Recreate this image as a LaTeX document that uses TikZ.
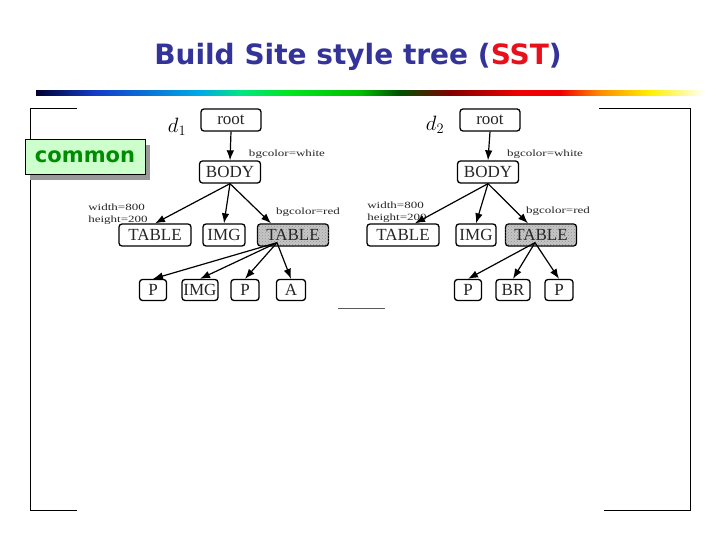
\documentclass[tikz,border=0pt]{standalone}
\usepackage{fontspec}
\usepackage{graphicx}
\usetikzlibrary{arrows.meta,shadows,patterns}
\newfontfamily\slidefont{DejaVu Sans}
\newfontfamily\treefont{Liberation Serif}
\definecolor{titleblue}{RGB}{51,51,153}
\definecolor{sstred}{RGB}{232,16,26}
\definecolor{commonfill}{RGB}{204,255,204}
\definecolor{commontext}{RGB}{0,140,0}
\definecolor{bar0}{RGB}{0,0,50}
\definecolor{bar1}{RGB}{20,60,200}
\definecolor{bar2}{RGB}{0,170,230}
\definecolor{bar3}{RGB}{0,230,130}
\definecolor{bar4}{RGB}{0,230,30}
\definecolor{bar5}{RGB}{0,190,0}
\definecolor{bar6}{RGB}{0,80,0}
\definecolor{bar7}{RGB}{130,0,0}
\definecolor{bar8}{RGB}{240,0,0}
\definecolor{bar9}{RGB}{255,140,0}
\definecolor{bar10}{RGB}{255,240,0}
\newcommand{\wide}[1]{\scalebox{1.37}[1]{#1}}
\tikzset{
  tag/.style={draw, line width=1.3pt, rounded corners=3pt, fill=white,
    minimum height=22pt, inner xsep=3pt, inner ysep=0pt,
    font=\treefont\fontsize{17}{18}\selectfont, text=black!85},
  leaf/.style={tag, minimum height=21pt},
  hot/.style={tag, fill=gray!45, postaction={pattern=crosshatch dots, pattern color=gray!85}},
  attr/.style={font=\treefont\fontsize{9.5}{12.5}\selectfont, inner sep=0pt, text=black!85},
  doc/.style={font=\fontsize{20}{22}\selectfont, inner sep=0pt},
  link/.style={-{Latex[length=10pt,width=7.5pt]}, line width=1.2pt},
  frame/.style={line width=1pt},
}
\begin{document}
\begin{tikzpicture}[x=1pt, y=-1pt]
    \fill[white] (0,0) rectangle (720,540);
    \useasboundingbox (0,0) rectangle (720,540);

    % Title and colour bar
    \node[font=\slidefont\bfseries\fontsize{28}{30}\selectfont, text=titleblue, anchor=base]
        (title) at (358,65) {Build Site style tree ({\color{sstred}SST})};
    \foreach \xa/\xb/\ca/\cb in {36/95/bar0/bar1, 95/200/bar1/bar2, 200/240/bar2/bar3,
        240/290/bar3/bar4, 290/360/bar4/bar5, 360/400/bar5/bar6, 400/450/bar6/bar7,
        450/520/bar7/bar8, 520/560/bar8/bar8, 560/600/bar8/bar9, 600/650/bar9/bar10,
        650/705/bar10/white}
        \shade[left color=\ca, right color=\cb] (\xa,90.5) rectangle (\xb,96);

    % Frame
    \draw[frame] (77,109) -- (30,109) -- (30,510) -- (77,510);
    \draw[frame] (599,109) -- (690,109) -- (690,510) -- (604,510);
    \draw[gray!70!black, line width=1pt] (338,308) -- (385,308);

    \node[draw, line width=0.6pt, fill=commonfill, minimum width=120pt, minimum height=35pt,
        drop shadow={shadow xshift=5pt, shadow yshift=-6pt, fill=black!40, opacity=1},
        font=\slidefont\bfseries\fontsize{21}{24}\selectfont, text=commontext]
        (common) at (85,156.5) {common};

    % Tree d1
    \node[doc] (d1) at (177,127) {$d_1$};
    \node[tag, minimum width=60pt] (r1) at (231,120) {root};
    \node[tag, minimum width=61pt] (b1) at (230,172) {BODY};
    \node[tag, minimum width=72pt] (ta1) at (155,235) {TABLE};
    \node[tag, minimum width=42pt] (im1) at (224,235) {IMG};
    \node[hot, minimum width=71pt] (tb1) at (293,235) {TABLE};
    \node[leaf, minimum width=27pt] (p1a) at (153,290) {P};
    \node[leaf, minimum width=36pt, inner xsep=1pt] (img1) at (200,290) {IMG};
    \node[leaf, minimum width=28pt] (p1b) at (245,290) {P};
    \node[leaf, minimum width=29pt] (a1) at (291,290) {A};
    \node[attr] (w1) at (287,154) {\wide{bgcolor=white}};
    \node[attr, align=left] (s1) at (118,214) {\wide{width=800}\\\wide{height=200}};
    \node[attr] (c1) at (308,212) {\wide{bgcolor=red}};

    \draw[link] (r1.south) -- (b1.north);
    \draw[link] (b1.south) -- (ta1.north);
    \draw[link] (b1.south) -- (im1.north);
    \draw[link] (b1.south) -- ([xshift=-22pt]tb1.north);
    \coordinate (h1) at ([xshift=-16pt,yshift=4pt]tb1.south);
    \foreach \c in {p1a,img1,p1b,a1}
        \draw[link] (h1) -- (\c.north);

    % Tree d2
    \node[doc] (d2) at (435,125) {$d_2$};
    \node[tag, minimum width=60pt] (r2) at (490,120) {root};
    \node[tag, minimum width=61pt] (b2) at (488,172) {BODY};
    \node[tag, minimum width=72pt] (ta2) at (403,235) {TABLE};
    \node[tag, minimum width=40pt] (im2) at (476,235) {IMG};
    \node[hot, minimum width=71pt] (tb2) at (541,235) {TABLE};
    \node[leaf, minimum width=27pt] (p2a) at (468,290) {P};
    \node[leaf, minimum width=34pt] (br2) at (513,290) {BR};
    \node[leaf, minimum width=28pt] (p2b) at (559,290) {P};
    \node[attr] (w2) at (545,154) {\wide{bgcolor=white}};
    \node[attr, align=left] (s2) at (397,212) {\wide{width=800}\\\wide{height=200}};
    \node[attr] (c2) at (558,211) {\wide{bgcolor=red}};

    \draw[link] (r2.south) -- (b2.north);
    \draw[link] (b2.south) -- ([xshift=12pt]ta2.north);
    \draw[link] (b2.south) -- (im2.north);
    \draw[link] (b2.south) -- ([xshift=-13pt]tb2.north);
    \coordinate (h2) at ([xshift=-6pt,yshift=4pt]tb2.south);
    \foreach \c in {p2a,br2,p2b}
        \draw[link] (h2) -- (\c.north);
\end{tikzpicture}
\end{document}
